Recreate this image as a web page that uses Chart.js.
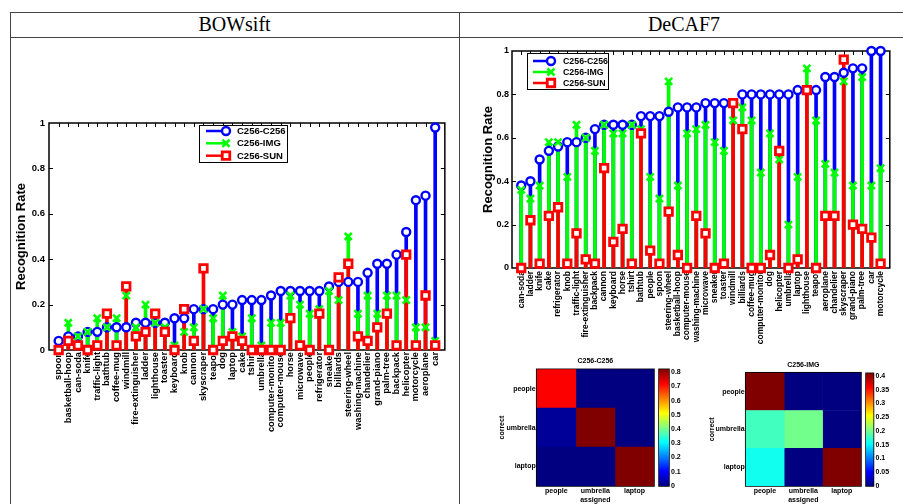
<!DOCTYPE html>
<html>
<head>
<meta charset="utf-8">
<script src="https://cdn.jsdelivr.net/npm/chart.js@4.4.0/dist/chart.umd.min.js"></script>
<style>
  html, body { margin: 0; padding: 0; background: #fff; }
  #page { position: relative; width: 903px; height: 504px; overflow: hidden; }
  canvas { position: absolute; }
  .rule { position: absolute; background: #444; }
  .head { position: absolute; top: 12px; height: 25px; line-height: 25px; text-align: center;
          font-family: 'Liberation Serif', 'Times New Roman', serif; font-size: 20px; color: #000; }
</style>
</head>
<body>
<div id="page">
  <div class="rule" style="left:10px;top:12px;width:893px;height:1px"></div>
  <div class="rule" style="left:10px;top:37px;width:893px;height:1px"></div>
  <div class="rule" style="left:10px;top:12px;width:1px;height:492px"></div>
  <div class="rule" style="left:459px;top:12px;width:1px;height:492px"></div>
  <div class="head" style="left:10px;width:449px">BOWsift</div>
  <div class="head" style="left:460px;width:448px">DeCAF7</div>

  <canvas id="leftStem" width="446" height="466" style="left:12px;top:38px"></canvas>
  <canvas id="rightStem" width="443" height="320" style="left:460px;top:38px"></canvas>
  <canvas id="heatA" width="168" height="149" style="left:490px;top:355px"></canvas>
  <canvas id="barA" width="45" height="149" style="left:655px;top:355px"></canvas>
  <canvas id="heatB" width="164" height="149" style="left:700px;top:355px"></canvas>
  <canvas id="barB" width="41" height="149" style="left:862px;top:355px"></canvas>
</div>

<script>
// ---- data ----
const seriesNames = ['C256-C256', 'C256-IMG', 'C256-SUN'];

const bowCategories = ['spoon', 'basketball-hoop', 'can-soda', 'knife', 'traffic-light', 'bathtub',
  'coffee-mug', 'windmill', 'fire-extinguisher', 'ladder', 'lighthouse', 'toaster', 'keyboard',
  'knob', 'cannon', 'skyscraper', 'teapot', 'dog', 'laptop', 'cake', 'tshirt', 'umbrella',
  'computer-monitor', 'computer-mouse', 'horse', 'microwave', 'people', 'refrigerator', 'sneaker',
  'billiards', 'steering-wheel', 'washing-machine', 'chandelier', 'grand-piano', 'palm-tree',
  'backpack', 'helicopter', 'motorcycle', 'aeroplane', 'car'];
const bowC256 = [0.04, 0.06, 0.06, 0.08, 0.08, 0.10, 0.10, 0.10, 0.12, 0.12, 0.12, 0.12, 0.14, 0.14,
  0.18, 0.18, 0.18, 0.20, 0.20, 0.22, 0.22, 0.22, 0.24, 0.26, 0.26, 0.26, 0.26, 0.26, 0.28, 0.30,
  0.30, 0.30, 0.34, 0.38, 0.38, 0.42, 0.52, 0.66, 0.68, 0.98];
const bowIMG = [0, 0.12, 0.06, 0.08, 0.14, 0.10, 0.14, 0.24, 0.10, 0.20, 0.12, 0.10, 0.02, 0.08,
  0.10, 0.18, 0.14, 0.24, 0.08, 0.06, 0.14, 0.02, 0.12, 0.12, 0.24, 0.20, 0.16, 0.18, 0.26, 0.22,
  0.50, 0.16, 0.24, 0.16, 0.24, 0.24, 0.22, 0.10, 0.10, 0.04];
const bowSUN = [0, 0.04, 0.02, 0, 0.02, 0.16, 0.02, 0.28, 0.06, 0.08, 0.16, 0.08, 0, 0.18, 0.04,
  0.36, 0, 0.04, 0.06, 0.04, 0, 0, 0, 0, 0.14, 0.02, 0, 0.16, 0, 0.32, 0.38, 0.06, 0.04, 0.10,
  0.16, 0.02, 0.42, 0.02, 0.24, 0.02];

const decafCategories = ['can-soda', 'ladder', 'knife', 'cake', 'refrigerator', 'knob',
  'traffic-light', 'fire-extinguisher', 'backpack', 'cannon', 'keyboard', 'horse', 'tshirt',
  'bathtub', 'people', 'spoon', 'steering-wheel', 'basketball-hoop', 'computer-mouse',
  'washing-machine', 'microwave', 'sneaker', 'toaster', 'windmill', 'billiards', 'coffee-mug',
  'computer-monitor', 'dog', 'helicopter', 'umbrella', 'laptop', 'lighthouse', 'teapot',
  'aeroplane', 'chandelier', 'skyscraper', 'grand-piano', 'palm-tree', 'car', 'motorcycle'];
const decafC256 = [0.38, 0.40, 0.50, 0.54, 0.56, 0.58, 0.58, 0.60, 0.64, 0.66, 0.66, 0.66, 0.66,
  0.70, 0.70, 0.70, 0.72, 0.74, 0.74, 0.74, 0.76, 0.76, 0.76, 0.76, 0.80, 0.80, 0.80, 0.80, 0.80,
  0.80, 0.82, 0.82, 0.82, 0.88, 0.88, 0.90, 0.92, 0.92, 1.00, 1.00];
const decafIMG = [0.36, 0.32, 0.38, 0.58, 0.58, 0.42, 0.66, 0.60, 0.54, 0.66, 0.62, 0.62, 0.66,
  0.64, 0.42, 0.32, 0.86, 0.38, 0.62, 0.64, 0.66, 0.58, 0.54, 0.68, 0.74, 0.68, 0.44, 0.62, 0.50,
  0.20, 0.42, 0.92, 0.68, 0.48, 0.44, 0.86, 0.38, 0.88, 0.38, 0.46];
const decafSUN = [0, 0.22, 0.02, 0.24, 0.28, 0.02, 0.16, 0.04, 0.02, 0.46, 0.12, 0.18, 0.02, 0.62,
  0.08, 0.02, 0.26, 0.06, 0, 0.24, 0.16, 0, 0.02, 0.76, 0.64, 0, 0, 0.06, 0.54, 0, 0.04, 0.82, 0,
  0.24, 0.24, 0.96, 0.20, 0.18, 0.14, 0.02];

const heatRows = ['people', 'umbrella', 'laptop'];
const heatCols = ['people', 'umbrella', 'laptop'];
const confC256 = [[0.72, 0, 0], [0.02, 0.82, 0], [0, 0, 0.82]];
const confIMG = [[0.41, 0, 0], [0.18, 0.20, 0], [0.16, 0, 0.41]];
const maxC256 = 0.82;
const maxIMG = 0.41;

// ---- look ----
Chart.defaults.font.family = "'Liberation Sans', Arial, Helvetica, sans-serif";
Chart.defaults.font.weight = 'bold';
Chart.defaults.color = '#000';

const markerStyles = [
  { color: '#0000ff', pointStyle: 'circle', radius: 4, bw: 2.4 },
  { color: '#00ff00', pointStyle: 'crossRot', radius: 5, bw: 2.6 },
  { color: '#ff0000', pointStyle: 'rect', radius: 5.3, bw: 2.8 }
];

function jet(t) {
  t = Math.max(0, Math.min(1, t));
  const c = v => Math.round(255 * Math.max(0, Math.min(1, v)));
  return 'rgb(' + c(1.5 - Math.abs(4 * t - 3)) + ',' + c(1.5 - Math.abs(4 * t - 2)) + ',' +
    c(1.5 - Math.abs(4 * t - 1)) + ')';
}

function drawMarker(ctx, st, x, y) {
  ctx.save();
  ctx.strokeStyle = st.color;
  ctx.fillStyle = '#fff';
  ctx.lineWidth = st.bw;
  ctx.beginPath();
  const s = st.radius * Math.SQRT1_2;
  if (st.pointStyle === 'circle') {
    ctx.arc(x, y, st.radius, 0, 2 * Math.PI);
    ctx.fill();
  } else if (st.pointStyle === 'rect') {
    ctx.rect(x - s, y - s, 2 * s, 2 * s);
    ctx.fill();
  } else {
    ctx.moveTo(x - s, y - s); ctx.lineTo(x + s, y + s);
    ctx.moveTo(x + s, y - s); ctx.lineTo(x - s, y + s);
  }
  ctx.stroke();
  ctx.restore();
}

// axes box with inward ticks, matlab style
const matBox = {
  id: 'matBox',
  beforeDatasetsDraw(chart, args, opts) {
    const { ctx, chartArea: a, scales } = chart;
    ctx.save();
    ctx.strokeStyle = '#000';
    ctx.lineWidth = 1.5;
    ctx.strokeRect(a.left, a.top, a.right - a.left, a.bottom - a.top);
    if (opts.tickLen) {
      const len = opts.tickLen;
      ctx.lineWidth = 1;
      ctx.beginPath();
      scales.x.ticks.forEach(t => {
        if (t.value <= scales.x.min || t.value >= scales.x.max) return;
        const px = Math.round(scales.x.getPixelForValue(t.value)) + 0.5;
        ctx.moveTo(px, a.top); ctx.lineTo(px, a.top + len);
        ctx.moveTo(px, a.bottom); ctx.lineTo(px, a.bottom - len);
      });
      scales.y.ticks.forEach(t => {
        if (t.value <= scales.y.min || t.value >= scales.y.max) return;
        const py = Math.round(scales.y.getPixelForValue(t.value)) + 0.5;
        ctx.moveTo(a.left, py); ctx.lineTo(a.left + len, py);
        ctx.moveTo(a.right, py); ctx.lineTo(a.right - len, py);
      });
      ctx.stroke();
    }
    ctx.restore();
  }
};

// legend box inside the axes: line sample ending in the marker
const stemLegend = {
  id: 'stemLegend',
  afterDraw(chart, args, o) {
    if (!o || !o.w) return;
    const { ctx, chartArea: a } = chart;
    const x0 = a.left + o.x, y0 = a.top + o.y;
    ctx.save();
    ctx.fillStyle = '#fff';
    ctx.fillRect(x0, y0, o.w, o.h);
    ctx.strokeStyle = '#000';
    ctx.lineWidth = 1;
    ctx.strokeRect(x0 + 0.5, y0 + 0.5, o.w, o.h);
    seriesNames.forEach((name, k) => {
      const st = markerStyles[k];
      const y = y0 + o.rows[k];
      ctx.strokeStyle = st.color;
      ctx.lineWidth = 2.5;
      ctx.beginPath();
      ctx.moveTo(x0 + o.lineX0, y);
      ctx.lineTo(x0 + o.lineX1, y);
      ctx.stroke();
      drawMarker(ctx, st, x0 + o.lineX1, y);
      ctx.fillStyle = '#000';
      ctx.font = 'bold ' + o.fontSize + "px 'Liberation Sans', Arial, sans-serif";
      ctx.textBaseline = 'middle';
      ctx.textAlign = 'left';
      ctx.fillText(name, x0 + o.textX, y + 0.5);
    });
    ctx.restore();
  }
};

const fmt = v => String(Math.round(v * 100) / 100);

function stemChart(id, cats, values, cfg) {
  const datasets = [];
  values.forEach((vals, k) => {
    datasets.push({
      type: 'bar', label: seriesNames[k],
      data: vals.map((v, i) => ({ x: i + 1, y: v })),
      backgroundColor: markerStyles[k].color, borderWidth: 0,
      barThickness: 3, grouped: false, order: 6 - k
    });
  });
  values.forEach((vals, k) => {
    const st = markerStyles[k];
    datasets.push({
      type: 'line', label: seriesNames[k],
      data: vals.map((v, i) => ({ x: i + 1, y: v })),
      showLine: false, clip: false, order: 3 - k,
      borderColor: st.color, backgroundColor: '#fff',
      pointStyle: st.pointStyle, pointRadius: st.radius, pointBorderWidth: st.bw,
      pointBorderColor: st.color, pointBackgroundColor: '#fff'
    });
  });

  return new Chart(document.getElementById(id), {
    type: 'bar',
    data: { datasets: datasets },
    plugins: [matBox, stemLegend],
    options: {
      responsive: false, animation: false, devicePixelRatio: 1, events: [],
      layout: { padding: { left: 0, right: cfg.padRight, top: cfg.padTop, bottom: 0 } },
      plugins: {
        legend: { display: false },
        tooltip: { enabled: false },
        matBox: { tickLen: 4 },
        stemLegend: cfg.legend
      },
      scales: {
        x: {
          type: 'linear', min: 0, max: cats.length + 1, offset: false,
          grid: { display: false, drawTicks: false }, border: { display: false },
          ticks: {
            stepSize: 1, autoSkip: false, maxTicksLimit: 100, minRotation: 90, maxRotation: 90,
            padding: cfg.xPad, font: { size: cfg.xFont },
            callback: v => cats[Math.round(v) - 1] || ''
          },
          afterFit: s => { s.height = cfg.xHeight; }
        },
        y: {
          min: 0, max: 1,
          grid: { display: false, drawTicks: false }, border: { display: false },
          ticks: { stepSize: 0.2, padding: cfg.yPad, font: { size: cfg.yFont }, callback: fmt },
          title: {
            display: true, text: 'Recognition Rate', font: { size: 13, weight: 'bold' },
            padding: { top: cfg.titlePad, bottom: 0 }
          },
          afterFit: s => { s.width = cfg.yWidth; }
        }
      }
    }
  });
}

function heatChart(id, title, matrix, cmax, cfg) {
  const datasets = heatCols.map((col, j) => ({
    label: col,
    data: heatRows.map(() => [j, j + 1]),
    backgroundColor: heatRows.map((r, i) => jet(matrix[i][j] / cmax)),
    borderWidth: 0, grouped: false, barPercentage: 1, categoryPercentage: 1
  }));
  return new Chart(document.getElementById(id), {
    type: 'bar',
    data: { labels: heatRows, datasets: datasets },
    plugins: [matBox],
    options: {
      indexAxis: 'y',
      responsive: false, animation: false, devicePixelRatio: 1, events: [],
      layout: { padding: { left: 0, right: cfg.padRight, top: 0, bottom: 0 } },
      plugins: {
        legend: { display: false },
        tooltip: { enabled: false },
        matBox: { tickLen: 0 },
        title: {
          display: true, text: title, fullSize: false,
          font: { size: 7, weight: 'bold' }, padding: { top: cfg.tTop, bottom: cfg.tBottom }
        }
      },
      scales: {
        x: {
          type: 'linear', min: 0, max: 3,
          grid: { display: false, drawTicks: false }, border: { display: false },
          afterBuildTicks: s => { s.ticks = [0.5, 1.5, 2.5].map(v => ({ value: v })); },
          ticks: { padding: 1, maxRotation: 0, font: { size: 7 }, callback: (v, i) => heatCols[i] },
          title: { display: true, text: 'assigned', padding: 0, font: { size: 7, weight: 'bold' } },
          afterFit: s => { s.height = cfg.xHeight; }
        },
        y: {
          grid: { display: false, drawTicks: false }, border: { display: false },
          ticks: { padding: 1, font: { size: 7 } },
          title: {
            display: true, text: 'correct', font: { size: 7, weight: 'bold' },
            padding: { top: cfg.yTitlePad, bottom: 0 }
          },
          afterFit: s => { s.width = cfg.yWidth; }
        }
      }
    }
  });
}

function colorBar(id, cmax, step, cfg) {
  return new Chart(document.getElementById(id), {
    type: 'bar',
    data: {
      labels: [''],
      datasets: [{
        data: [cmax], borderWidth: 0, barPercentage: 1, categoryPercentage: 1,
        backgroundColor: c => {
          const a = c.chart.chartArea;
          if (!a) return jet(0.5);
          const g = c.chart.ctx.createLinearGradient(0, a.bottom, 0, a.top);
          for (let k = 0; k <= 8; k++) g.addColorStop(k / 8, jet(k / 8));
          return g;
        }
      }]
    },
    plugins: [matBox],
    options: {
      responsive: false, animation: false, devicePixelRatio: 1, events: [],
      layout: { padding: { left: cfg.padLeft, right: 0, top: cfg.padTop, bottom: cfg.padBottom } },
      plugins: { legend: { display: false }, tooltip: { enabled: false }, matBox: { tickLen: 0 } },
      scales: {
        x: { display: false },
        y: {
          position: 'right', min: 0, max: cmax,
          grid: { display: false, drawTicks: false }, border: { display: false },
          ticks: { stepSize: step, includeBounds: false, padding: 2, font: { size: 7 }, callback: fmt },
          afterFit: s => { s.width = cfg.yWidth; }
        }
      }
    }
  });
}

stemChart('leftStem', bowCategories, [bowC256, bowIMG, bowSUN], {
  padRight: 3, padTop: 85, xHeight: 154, yWidth: 37, titlePad: 1.2,
  xPad: 2, yPad: 4, xFont: 9.3, yFont: 9.5,
  legend: { x: 150, y: 2, w: 88, h: 37, rows: [6, 18.3, 30.7], lineX0: 7, lineX1: 27, textX: 38, fontSize: 9.5 }
});

stemChart('rightStem', decafCategories, [decafC256, decafIMG, decafSUN], {
  padRight: 6, padTop: 13, xHeight: 90, yWidth: 52, titlePad: 20.2,
  xPad: 3, yPad: 3, xFont: 8.5, yFont: 9,
  legend: { x: 15, y: 2, w: 81, h: 36, rows: [8, 19, 30], lineX0: 6, lineX1: 24, textX: 36, fontSize: 8.8 }
});

heatChart('heatA', 'C256-C256', confC256, maxC256,
  { padRight: 4, tTop: 1.8, tBottom: 4.1, xHeight: 18, yWidth: 46.7, yTitlePad: 7.8 });
colorBar('barA', maxC256, 0.1, { padLeft: 4, padTop: 14.3, padBottom: 18, yWidth: 31 });

heatChart('heatB', 'C256-IMG', confIMG, maxIMG,
  { padRight: 3, tTop: 5.8, tBottom: 3.5, xHeight: 18, yWidth: 45.7, yTitlePad: 7.8 });
colorBar('barB', maxIMG, 0.05, { padLeft: 4, padTop: 18.3, padBottom: 18, yWidth: 29.5 });
</script>
</body>
</html>
